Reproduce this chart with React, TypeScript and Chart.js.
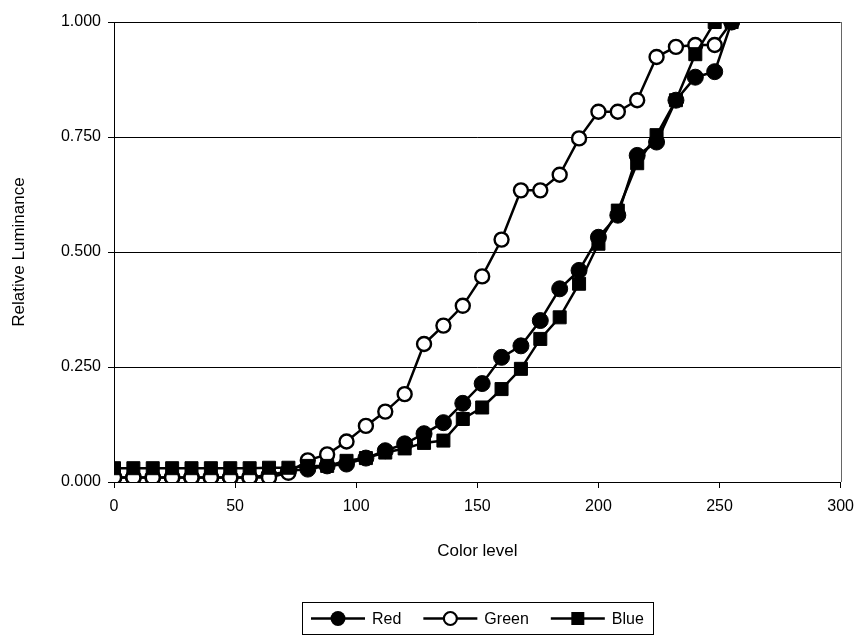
import React, { useEffect, useRef } from 'react';
import { Chart, registerables } from 'chart.js';

Chart.register(...registerables);

const colorLevels = [0, 8, 16, 24, 32, 40, 48, 56, 64, 72, 80, 88, 96, 104, 112, 120, 128, 136, 144, 152, 160, 168, 176, 184, 192, 200, 208, 216, 224, 232, 240, 248, 255];
const redValues = [0.01, 0.01, 0.01, 0.01, 0.01, 0.01, 0.01, 0.01, 0.015, 0.024, 0.028, 0.035, 0.039, 0.052, 0.068, 0.083, 0.105, 0.129, 0.171, 0.214, 0.271, 0.296, 0.351, 0.42, 0.46, 0.532, 0.58, 0.71, 0.739, 0.83, 0.88, 0.892, 1.0];
const greenValues = [0.01, 0.01, 0.01, 0.01, 0.01, 0.01, 0.01, 0.01, 0.01, 0.02, 0.047, 0.06, 0.088, 0.122, 0.153, 0.191, 0.3, 0.34, 0.383, 0.447, 0.527, 0.634, 0.634, 0.668, 0.747, 0.805, 0.805, 0.83, 0.924, 0.946, 0.95, 0.95, 1.0];
const blueValues = [0.03, 0.03, 0.03, 0.03, 0.03, 0.03, 0.03, 0.03, 0.031, 0.031, 0.035, 0.035, 0.046, 0.052, 0.064, 0.073, 0.085, 0.09, 0.137, 0.162, 0.202, 0.246, 0.311, 0.358, 0.431, 0.518, 0.59, 0.693, 0.754, 0.83, 0.93, 1.0, 1.0];
const seriesNames = ['Red', 'Green', 'Blue'];
const xTickValues = [0, 50, 100, 150, 200, 250, 300];
const yTickValues = [0, 0.25, 0.5, 0.75, 1];
const xTitle = 'Color level';
const yTitle = 'Relative Luminance';

const FONT = '"Liberation Sans", Arial, sans-serif';

function drawMarker(ctx: CanvasRenderingContext2D, idx: number, x: number, y: number) {
  ctx.save();
  ctx.fillStyle = '#000';
  ctx.strokeStyle = '#000';
  if (idx === 0) {
    ctx.beginPath();
    ctx.arc(x, y, 7.5, 0, Math.PI * 2);
    ctx.fill();
  } else if (idx === 1) {
    ctx.beginPath();
    ctx.arc(x, y, 6.5, 0, Math.PI * 2);
    ctx.fillStyle = '#fff';
    ctx.fill();
    ctx.lineWidth = 2.2;
    ctx.stroke();
  } else {
    ctx.fillRect(x - 6.5, y - 6.5, 13, 13);
  }
  ctx.restore();
}

export default function App() {
  const ref = useRef<HTMLCanvasElement>(null);

  useEffect(() => {
    document.body.style.margin = '0';
    const canvas = ref.current;
    if (!canvas) return;
    const toPts = (vals: number[]) => colorLevels.map((x, i) => ({ x, y: vals[i] }));

    const excelPlugin = {
      id: 'excelDecor',
      beforeDatasetsDraw(chart: any) {
        const { ctx, chartArea: a } = chart;
        ctx.save();
        ctx.strokeStyle = '#666';
        ctx.lineWidth = 1;
        ctx.beginPath();
        ctx.moveTo(Math.round(a.right) + 0.5, a.top);
        ctx.lineTo(Math.round(a.right) + 0.5, a.bottom);
        ctx.stroke();
        ctx.restore();
      },
      afterDraw(chart: any) {
        const ctx: CanvasRenderingContext2D = chart.ctx;
        ctx.save();
        ctx.font = '16px ' + FONT;
        const symLen = 54, gapST = 7, gapItem = 22, pad = 9;
        const widths = seriesNames.map((n) => ctx.measureText(n).width);
        const total = pad * 2 + 3 * (symLen + gapST) + widths.reduce((s, w) => s + w, 0) + 2 * gapItem;
        const cx = (chart.chartArea.left + chart.chartArea.right) / 2;
        const top = 602, h = 32;
        const x0 = Math.round(cx - total / 2);
        ctx.strokeStyle = '#000';
        ctx.lineWidth = 1;
        ctx.strokeRect(x0 + 0.5, top + 0.5, Math.round(total), h);
        let x = x0 + pad;
        const cy = top + h / 2 + 0.5;
        seriesNames.forEach((name, i) => {
          ctx.strokeStyle = '#000';
          ctx.lineWidth = 2.4;
          ctx.beginPath();
          ctx.moveTo(x, cy);
          ctx.lineTo(x + symLen, cy);
          ctx.stroke();
          drawMarker(ctx, i, x + symLen / 2, cy);
          x += symLen + gapST;
          ctx.fillStyle = '#000';
          ctx.textBaseline = 'middle';
          ctx.textAlign = 'left';
          ctx.fillText(name, x, cy + 1);
          x += widths[i] + gapItem;
        });
        ctx.restore();
      },
    };

    const chart = new Chart(canvas, {
      type: 'line',
      data: {
        datasets: [
          {
            label: seriesNames[0],
            data: toPts(redValues),
            borderColor: '#000',
            borderWidth: 2.5,
            pointStyle: 'circle',
            pointRadius: 8,
            pointBackgroundColor: '#000',
            pointBorderColor: '#000',
            pointBorderWidth: 1,
            order: 3,
          },
          {
            label: seriesNames[1],
            data: toPts(greenValues),
            borderColor: '#000',
            borderWidth: 2.5,
            pointStyle: 'circle',
            pointRadius: 7,
            pointBackgroundColor: '#fff',
            pointBorderColor: '#000',
            pointBorderWidth: 2.4,
            order: 2,
          },
          {
            label: seriesNames[2],
            data: toPts(blueValues),
            borderColor: '#000',
            borderWidth: 2.5,
            pointStyle: 'rect',
            pointRadius: 9.2,
            pointBackgroundColor: '#000',
            pointBorderColor: '#000',
            pointBorderWidth: 1,
            order: 1,
          },
        ],
      },
      options: {
        responsive: false,
        animation: false,
        devicePixelRatio: 1,
        layout: { padding: { left: 0, right: 18, top: 22, bottom: 0 } },
        plugins: { legend: { display: false }, tooltip: { enabled: false } },
        scales: {
          x: {
            type: 'linear',
            min: 0,
            max: 300,
            afterBuildTicks: (s: any) => {
              s.ticks = xTickValues.map((v) => ({ value: v }));
            },
            afterFit: (s: any) => {
              s.height = 638 - 482;
            },
            ticks: { font: { family: FONT, size: 16 }, color: '#000', padding: 9, maxRotation: 0, autoSkip: false },
            grid: { drawOnChartArea: false, drawTicks: true, tickLength: 6, color: '#000', tickColor: '#000' },
            border: { display: true, color: '#000', width: 1 },
            title: { display: true, text: xTitle, font: { family: FONT, size: 17 }, color: '#000', padding: { top: 0, bottom: 76 } },
          },
          y: {
            type: 'linear',
            min: 0,
            max: 1,
            afterBuildTicks: (s: any) => {
              s.ticks = yTickValues.map((v) => ({ value: v }));
            },
            afterFit: (s: any) => {
              s.width = 114;
            },
            ticks: { font: { family: FONT, size: 16 }, color: '#000', padding: 7, callback: (v: any) => Number(v).toFixed(3) },
            grid: { color: '#000', lineWidth: 1, tickLength: 6, drawTicks: true, tickColor: '#000' },
            border: { display: true, color: '#000', width: 1 },
            title: { display: true, text: yTitle, font: { family: FONT, size: 17 }, color: '#000', padding: { top: 9, bottom: 0 } },
          },
        },
      },
      plugins: [excelPlugin],
    });

    return () => chart.destroy();
  }, []);

  return (
    <div style={{ width: 863, height: 638 }}>
      <canvas ref={ref} width={863} height={638} style={{ display: 'block' }} />
    </div>
  );
}
